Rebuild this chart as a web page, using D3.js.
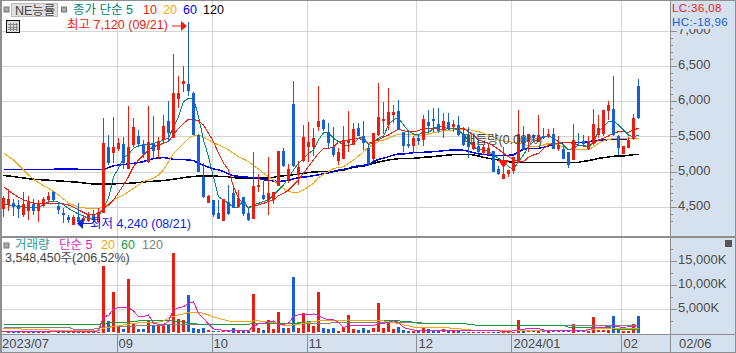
<!DOCTYPE html>
<html>
<head>
<meta charset="utf-8">
<script src="https://cdn.jsdelivr.net/npm/d3@7"></script>
<style>
  html, body { margin: 0; padding: 0; background: #fff; overflow: hidden; }
  text { font-family: "Liberation Sans", "Noto Sans CJK KR", sans-serif; }
</style>
</head>
<body>
<div class="chart-container"></div>
<script>
// Data. Prices in won, volume in thousands of shares.
const opens = [4468,4530,4553,4529,4388,4449,4544,4435,4515,4600,4718,4515,4411,4355,4246,4364,4303,4303,4388,4293,
  4421,5346,5261,5332,5393,5034,5379,5506,5393,5143,5412,5308,5450,5718,5487,6034,6242,6242,6119,5520,
  4921,4562,4600,4421,4293,4577,4704,4496,4638,4411,4340,4779,4670,4600,4600,4803,5293,4897,5959,4944,
  5142,5341,5345,5638,5732,5558,5355,5142,5180,5411,5378,5614,5506,5331,5175,5520,5718,5662,5803,5860,
  5567,5388,5355,5482,5440,5699,5742,5671,5605,5699,5638,5662,5534,5520,5331,5364,5260,5237,5298,5034,
  4902,4968,5001,5128,5496,5426,5520,5426,5506,5487,5534,5317,5317,5284,5166,5426,5440,5317,5393,5520,
  5534,5865,5883,5506,5251,5341,5473,6214];
const closes = [4624,4610,4496,4468,4544,4591,4449,4553,4614,4657,4600,4459,4388,4308,4364,4293,4350,4402,4317,4435,
  5412,5119,5346,5412,5129,5346,5639,5393,5252,5426,5299,5440,5648,5553,6119,6119,6285,6143,5520,5001,
  4638,4657,4388,4341,4610,4402,4496,4624,4397,4317,4803,4812,4614,4694,4718,5293,5086,5039,5081,5062,
  5487,5416,5473,5718,5605,5402,5237,5275,5449,5449,5605,5506,5411,5109,5544,5770,5742,5841,5850,5600,
  5364,5355,5473,5435,5742,5647,5718,5567,5723,5614,5676,5520,5378,5345,5426,5284,5345,5331,5001,4968,
  4968,5024,5204,5534,5317,5534,5473,5520,5473,5534,5317,5378,5180,5095,5449,5411,5402,5435,5676,5614,
  5874,5945,5520,5331,5364,5449,5765,5756];
const highs = [4657,4751,4610,4600,4718,4657,4610,4600,4638,4718,4732,4577,4482,4388,4388,4553,4388,4435,4459,4482,
  5761,5521,5775,5473,5497,5931,5761,5591,5450,5931,5790,5497,5804,6001,6667,6355,6497,7120,6134,5534,
  5119,4671,4600,4600,4610,4813,4813,4742,4638,4482,5284,4963,4869,5208,4718,5293,5331,5105,6285,5152,
  5662,5709,5614,6214,5742,5685,5629,5331,5647,5860,5685,5685,5718,5378,5544,6252,5992,6181,5945,6016,
  5567,5567,5506,5520,5803,5874,5907,5907,5836,5827,5732,5789,5638,5638,5520,5449,5378,5402,5298,5081,
  5345,5024,5204,5874,5647,5534,5534,5803,5614,5600,5614,5506,5378,5284,5676,5544,5520,5506,5883,5803,
  5874,6006,6355,5520,5364,5487,5817,6308];
const lows = [4364,4435,4364,4341,4364,4317,4388,4293,4496,4577,4577,4411,4270,4270,4240,4270,4270,4293,4270,4270,
  4421,5096,5119,5285,5049,5034,5355,5355,5190,5129,5190,5190,5403,5426,5473,5907,6134,6077,5520,5001,
  4624,4553,4364,4326,4293,4388,4482,4482,4364,4293,4340,4708,4600,4387,4552,4803,5057,4836,5072,4812,
  5142,5142,5213,5581,5567,5331,5204,5095,5180,5284,5378,5496,5308,5081,5142,5506,5544,5591,5685,5591,
  5284,5345,5270,5378,5364,5553,5567,5553,5487,5591,5567,5506,5364,5204,5308,5260,5237,5237,5001,4954,
  4902,4921,4968,5128,5317,5284,5426,5426,5459,5473,5317,5298,5180,5062,5166,5355,5378,5308,5378,5473,
  5506,5732,5506,5237,5251,5331,5449,5742];
const volumes = [280,200,150,150,180,160,140,170,200,200,220,160,120,100,180,130,110,200,160,200,
  14019,2360,8397,1388,694,11312,2013,694,694,2707,1666,1666,1874,1874,16656,2915,2568,7773,1041,833,
  1041,486,278,278,278,278,1041,347,347,347,8050,972,555,2637,763,4303,972,972,11590,972,
  4095,1943,1388,8467,972,763,972,347,1110,3678,763,555,972,555,902,6177,972,2151,763,1180,
  555,347,347,347,972,763,347,347,694,347,347,347,208,208,208,208,208,200,200,200,
  200,200,200,2637,400,250,300,350,300,350,300,250,250,300,1804,300,280,400,3262,500,
  500,550,3470,600,350,350,1804,3548];

const ma5 = [4540,4530,4520,4510,4500,4500,4490,4490,4540,4570,4580,4570,4530,4480,4440,4400,4370,4340,4340,4360,
  4500,4620,4930,5048,5190,5250,5330,5365,5380,5380,5400,5420,5450,5473,5638,5780,5990,6040,6040,5780,
  5450,5214,4931,4647,4600,4553,4496,4496,4600,4482,4529,4552,4576,4600,4670,4741,4812,4916,5024,5119,
  5190,5260,5308,5449,5553,5553,5473,5426,5378,5369,5402,5473,5496,5378,5426,5473,5506,5662,5742,5756,
  5662,5577,5534,5520,5567,5553,5614,5638,5638,5600,5614,5591,5520,5449,5355,5308,5308,5298,5237,5190,
  5142,5072,5034,5142,5237,5355,5426,5449,5496,5506,5473,5426,5378,5308,5331,5378,5378,5345,5426,5567,
  5638,5709,5718,5662,5591,5520,5487,5520];
const ma10 = [4789,4732,4685,4638,4600,4577,4553,4553,4553,4553,4553,4544,4544,4529,4496,4459,4421,4388,4388,4411,
  4482,4529,4600,4704,4813,4931,5072,5166,5237,5308,5355,5378,5402,5426,5520,5614,5685,5742,5742,5718,
  5662,5544,5426,5260,5119,5025,4789,4624,4544,4496,4515,4529,4552,4576,4600,4661,4694,4741,4812,4883,
  4977,5072,5166,5260,5331,5331,5345,5426,5440,5449,5463,5473,5449,5402,5426,5449,5487,5520,5567,5600,
  5581,5567,5567,5581,5614,5614,5614,5605,5600,5610,5614,5614,5614,5567,5520,5449,5426,5402,5364,5317,
  5260,5213,5175,5142,5142,5204,5237,5260,5331,5378,5402,5402,5411,5411,5402,5378,5364,5364,5402,5449,
  5473,5506,5544,5567,5567,5558,5591,5614];
const ma20 = [5270,5214,5167,5096,5025,4954,4893,4846,4803,4765,4718,4671,4614,4553,4529,4496,4487,4482,4482,4482,
  4496,4544,4600,4638,4671,4718,4765,4813,4860,4883,4907,4954,5025,5143,5261,5332,5403,5473,5511,5521,
  5488,5450,5412,5379,5346,5308,5261,5213,5180,5142,5086,5039,4977,4930,4883,4812,4765,4718,4708,4708,
  4741,4788,4836,4916,4963,5001,5048,5057,5072,5119,5166,5223,5284,5345,5393,5426,5449,5473,5506,5534,
  5534,5525,5520,5515,5520,5534,5553,5567,5581,5586,5590,5595,5600,5600,5581,5567,5544,5515,5487,5449,
  5435,5426,5416,5411,5393,5364,5355,5355,5378,5402,5402,5378,5345,5317,5308,5308,5308,5308,5355,5402,
  5435,5459,5468,5473,5473,5473,5473,5473];
const ma60 = [5034,5034,5034,5034,5034,5034,5034,5034,5034,5034,5034,5038,5038,5038,5038,5034,5030,5030,5030,5030,
  5030,5058,5082,5096,5100,5110,5119,5129,5143,5167,5186,5195,5200,5190,5176,5176,5171,5167,5157,5119,
  5091,5063,5039,5025,5001,4968,4944,4935,4925,4921,4916,4906,4887,4878,4869,4859,4869,4878,4897,4916,
  4925,4930,4944,4954,4970,4985,5000,5024,5034,5048,5072,5081,5090,5100,5142,5175,5190,5213,5237,5251,
  5251,5260,5270,5270,5275,5279,5284,5289,5298,5303,5308,5308,5303,5289,5270,5251,5246,5237,5232,5227,
  5227,5232,5237,5284,5317,5331,5331,5331,5345,5364,5393,5402,5411,5416,5416,5416,5416,5426,5435,5445,
  5449,5454,5459,5459,5463,5468,5473,5473];
const ma120 = [4945,4940,4931,4921,4912,4902,4893,4888,4883,4879,4874,4869,4865,4860,4855,4850,4841,4831,4827,4827,
  4827,4827,4827,4831,4836,4836,4841,4846,4855,4860,4865,4869,4874,4883,4893,4902,4917,4926,4931,4940,
  4940,4940,4940,4935,4932,4928,4915,4912,4910,4908,4906,4908,4910,4913,4920,4935,4942,4950,4958,4967,
  4978,4988,4995,5000,5005,5005,5005,5015,5024,5043,5062,5072,5081,5095,5119,5138,5152,5166,5175,5185,
  5190,5190,5190,5194,5204,5208,5213,5223,5227,5237,5242,5246,5246,5246,5237,5223,5204,5190,5175,5166,
  5152,5142,5133,5133,5133,5133,5133,5133,5133,5133,5133,5133,5133,5133,5133,5133,5147,5157,5171,5190,
  5199,5208,5218,5223,5223,5232,5242,5246];

const volMa5 = [208,208,208,208,208,208,208,208,208,208,208,208,208,208,208,208,208,208,208,347,
  3331,3539,4927,5205,5205,5205,4511,3331,3331,3678,1943,1735,1596,2429,4719,5205,5413,6107,6454,4025,
  2984,1735,763,555,486,416,416,416,416,416,1249,1804,1943,2151,2429,1596,1735,1943,3331,3678,
  3817,3817,3886,3539,2984,2637,2637,2151,1041,1457,1457,1457,1457,1457,1457,1943,1943,2151,2429,2151,
  1041,763,555,347,347,347,347,347,347,347,347,347,347,347,347,347,347,347,347,347,
  208,208,347,625,694,833,833,833,555,347,347,347,347,347,347,347,416,555,972,972,
  1110,1249,1457,1180,1110,1180,1249,1457];
const volMa20 = [902,850,800,750,720,694,680,650,620,580,416,416,416,416,347,347,347,347,347,347,
  902,1041,1249,1388,1596,1735,1874,2013,2151,2151,2151,2151,2429,2984,3331,3678,3886,4233,4233,4233,
  4025,3678,3192,2984,2707,2429,2290,2290,2221,2290,2429,2429,2290,2151,2082,1735,1527,1457,1596,1735,
  1874,2082,2290,2429,2498,2498,2498,2498,2498,2637,2498,2498,2498,2498,2498,2429,2429,2151,2013,1943,
  1596,1457,1110,1110,1110,1041,972,972,972,972,833,763,694,555,486,347,347,347,347,347,
  347,347,347,416,416,416,416,416,416,416,416,416,416,416,416,486,486,555,694,763,
  763,763,763,833,763,763,763,763];
const volMa60 = [1735,1735,1735,1735,1735,1735,1735,1735,1735,1735,1735,1735,1735,1735,1735,1735,1735,1735,1735,1735,
  1943,2013,2151,2151,2151,2151,2290,2429,2429,2429,2429,2429,2429,2568,2429,2290,2151,2013,1874,1735,
  1735,1735,1735,1735,1735,1735,1735,1735,1735,1735,1874,1874,1874,1874,1943,1804,1804,1804,1804,2082,
  2151,2221,2290,2429,2429,2429,2429,2429,2429,2429,2429,2429,2429,2429,2429,2429,2429,2429,2429,2429,
  2360,2290,2151,2082,1943,1943,1943,1943,1943,1943,1943,1943,1943,1735,1596,1527,1457,1457,1457,1457,
  1457,1457,1457,1457,1457,1457,1457,1457,1457,1457,1457,1457,1457,1110,1110,1110,1110,1110,1110,1110,
  1110,1110,694,694,694,694,694,694];
const volMa120 = [1110,1110,1110,1110,1110,1110,1110,1110,1110,1110,1110,1110,1110,1110,694,694,694,694,694,902,
  1110,1150,1180,1220,1260,1300,1340,1380,1420,1460,1500,1530,1560,1600,1630,1660,1690,1720,1735,1735,
  1735,1735,1735,1735,1735,1735,1735,1735,1735,1735,1874,1874,1874,1874,1874,1874,1874,1874,1874,1874,
  1874,1874,1874,1874,1874,1874,2082,2082,2082,2082,2082,2082,2082,2082,2082,2082,2082,2082,2082,2082,
  2082,2082,2082,1943,1943,1943,1943,1943,1943,1943,1943,1943,1943,1735,1596,1527,1457,1457,1457,1457,
  1457,1457,1457,1457,1457,1457,1457,1457,1457,1457,1457,1457,1527,1527,1527,1527,1527,1527,1527,1527,
  1527,1527,1527,1527,1527,1527,1527,1527];

const priceTicks = [4500,5000,5500,6000,6500,7000];
const volTicks = [5000,10000,15000];
const monthPos = [22.6,41.6,60.6,82.6,101.6,123.6];
const monthLabels = ['09','10','11','12','2024/01','02'];

// Dimensions & Constants
const width = 736, height = 353,
    axisX = 670,
    panelDivide = 236,
    bandTop = 334;

const red = '#ec1c0e', blue = '#1560d2', bandFill = '#d6e1ef',
    gridColor = '#d4d4d4', frameColor = '#8e8e8e', labelColor = '#4a4a4a';

const svg = d3.select('.chart-container')
    .append('svg')
        .attr('width', width)
        .attr('height', height)
        .style('display', 'block');

// Build scales.
const x = d3.scaleLinear().domain([0, 127]).range([3.5, 638.5]);
const y = d3.scaleLinear().domain([4500, 7000]).range([207, 30.5]);
const yVol = d3.scaleLinear().domain([0, 15000]).range([332.5, 261]);

// Backgrounds
svg.append('rect').attr('x', axisX).attr('y', 0).attr('width', width - axisX).attr('height', height).attr('fill', bandFill);
svg.append('rect').attr('x', 0).attr('y', bandTop).attr('width', width).attr('height', height - bandTop).attr('fill', bandFill);

// Grid
const grid = svg.append('g').attr('shape-rendering', 'crispEdges').attr('stroke', gridColor).attr('stroke-width', 1);
grid.selectAll('.h1').data(priceTicks).join('line')
    .attr('x1', 0).attr('x2', axisX).attr('y1', d => Math.round(y(d)) + 0.5).attr('y2', d => Math.round(y(d)) + 0.5);
grid.selectAll('.h2').data(volTicks).join('line')
    .attr('x1', 0).attr('x2', axisX).attr('y1', d => Math.round(yVol(d)) + 0.5).attr('y2', d => Math.round(yVol(d)) + 0.5);
grid.selectAll('.v').data(monthPos).join('line')
    .attr('x1', d => Math.round(x(d)) + 0.5).attr('x2', d => Math.round(x(d)) + 0.5)
    .attr('y1', 0).attr('y2', bandTop);

// Moving averages under the candles
const priceLine = d3.line().x((d, i) => x(i)).y(d => y(d));
[[ma120, '#000000', 1.5], [ma60, '#0000e6', 1.5], [ma20, '#f2a80c', 1], [ma10, '#ee1c0e', 1], [ma5, '#008776', 1]]
    .forEach(([values, color, w]) => {
        svg.append('path').datum(values)
            .attr('d', priceLine)
            .attr('fill', 'none')
            .attr('stroke', color)
            .attr('stroke-width', w)
            .attr('shape-rendering', 'crispEdges');
    });

// Candles
const candles = svg.append('g').attr('shape-rendering', 'crispEdges');
const candleColor = i => closes[i] >= opens[i] ? red : blue;
candles.selectAll('.wick').data(d3.range(opens.length)).join('rect')
    .attr('x', i => x(i) - 0.5)
    .attr('width', 1)
    .attr('y', i => Math.round(y(highs[i])))
    .attr('height', i => Math.max(1, Math.round(y(lows[i]) - y(highs[i]))))
    .attr('fill', candleColor);
candles.selectAll('.body').data(d3.range(opens.length)).join('rect')
    .attr('x', i => x(i) - 1.5)
    .attr('width', 3)
    .attr('y', i => Math.round(y(Math.max(opens[i], closes[i]))))
    .attr('height', i => Math.max(1, Math.round(Math.abs(y(opens[i]) - y(closes[i])))))
    .attr('fill', candleColor);

// Volume bars
svg.append('g').attr('shape-rendering', 'crispEdges')
    .selectAll('rect').data(volumes).join('rect')
    .attr('x', (d, i) => x(i) - 1.5)
    .attr('width', 3)
    .attr('y', d => Math.round(yVol(d)))
    .attr('height', d => Math.max(1, Math.round(yVol(0) - yVol(d))))
    .attr('fill', (d, i) => candleColor(i));

const volLine = d3.line().x((d, i) => x(i)).y(d => yVol(d));
[[volMa120, '#808080', 1], [volMa60, '#159a3c', 1], [volMa20, '#f2a80c', 1], [volMa5, '#e01fc0', 1]]
    .forEach(([values, color, w]) => {
        svg.append('path').datum(values)
            .attr('d', volLine)
            .attr('fill', 'none')
            .attr('stroke', color)
            .attr('stroke-width', w)
            .attr('shape-rendering', 'crispEdges');
    });

// Axes
const priceAxis = d3.axisRight(y)
    .tickValues(d3.range(4300, 7100, 100))
    .tickSize(3)
    .tickFormat(d => priceTicks.includes(d) ? d3.format(',')(d) : '');
const volAxis = d3.axisRight(yVol)
    .tickValues(d3.range(2500, 20000, 2500))
    .tickSize(3)
    .tickFormat(d => volTicks.includes(d) ? d3.format(',')(d) + 'K' : '');

[[priceAxis, priceTicks], [volAxis, volTicks]].forEach(([axis, majors]) => {
    const g = svg.append('g')
        .attr('transform', `translate(${axisX},0)`)
        .attr('shape-rendering', 'crispEdges')
        .call(axis);
    g.select('.domain').remove();
    g.selectAll('.tick line').attr('stroke', frameColor)
        .attr('x2', d => majors.includes(d) ? 7 : 3);
    g.selectAll('.tick text')
        .attr('x', 8)
        .attr('y', -1.5)
        .attr('fill', labelColor)
        .attr('font-size', 13)
        .style('font-family', '"Liberation Sans", sans-serif');
});

// Frame
const frame = svg.append('g').attr('shape-rendering', 'crispEdges').attr('fill', frameColor);
frame.append('rect').attr('x', 0).attr('y', 0).attr('width', width).attr('height', 1);
frame.append('rect').attr('x', 0).attr('y', 0).attr('width', 2).attr('height', height);
frame.append('rect').attr('x', width - 1).attr('y', 0).attr('width', 1).attr('height', height);
frame.append('rect').attr('x', 0).attr('y', height - 1).attr('width', width).attr('height', 1);
frame.append('rect').attr('x', axisX).attr('y', 0).attr('width', 1).attr('height', height);
frame.append('rect').attr('x', 0).attr('y', panelDivide).attr('width', width).attr('height', 2);
frame.append('rect').attr('x', 0).attr('y', bandTop).attr('width', width).attr('height', 1);
frame.selectAll('.sep').data(monthPos).join('rect')
    .attr('x', d => Math.round(x(d))).attr('y', bandTop).attr('width', 1).attr('height', height - bandTop);

// Bottom labels
const bandLabels = svg.append('g').attr('fill', labelColor).attr('font-size', 13);
bandLabels.append('text').attr('x', 2).attr('y', 348).text('2023/07');
bandLabels.selectAll('.m').data(monthPos).join('text')
    .attr('x', d => x(d) + 2).attr('y', 348).text((d, i) => monthLabels[i]);
bandLabels.append('text').attr('x', 679).attr('y', 348).text('02/06');

// Text helper
function label(sel, px, py, str, color, size) {
    return sel.append('text').attr('x', px).attr('y', py).attr('fill', color).attr('font-size', size || 12).text(str);
}

// Corner readouts cover the 7,000 label
svg.append('rect').attr('x', axisX + 1).attr('y', 1).attr('width', width - axisX - 2).attr('height', 28).attr('fill', bandFill);
label(svg, 672, 12, 'LC:36,08', '#ec1c0e', 11.5).attr('letter-spacing', 0.4);
label(svg, 672, 25.5, 'HC:-18,96', blue, 11.5).attr('letter-spacing', 0.4);

// Header of price panel
svg.append('rect').attr('x', 4).attr('y', 7).attr('width', 5).attr('height', 5).attr('fill', '#aaa').attr('stroke', '#777');
svg.append('rect').attr('x', 11.5).attr('y', 3.5).attr('width', 46).attr('height', 13).attr('fill', '#e0e0e0').attr('stroke', '#bbb');
label(svg, 15, 14.5, 'NE능률', '#444', 12.5);
svg.append('rect').attr('x', 61.5).attr('y', 7).attr('width', 5).attr('height', 5).attr('fill', '#aaa').attr('stroke', '#777');
label(svg, 73, 14, '종가 단순 5', '#00857a', 12.5);
label(svg, 143, 14, '10', '#ec1c0e', 12.5);
label(svg, 163, 14, '20', '#f2a80c', 12.5);
label(svg, 183, 14, '60', '#0000e6', 12.5);
label(svg, 203, 14, '120', '#000', 12.5);

// Table icon
const icon = svg.append('g').attr('shape-rendering', 'crispEdges');
icon.append('rect').attr('x', 6.5).attr('y', 20.5).attr('width', 13).attr('height', 12).attr('fill', '#ddd').attr('stroke', '#111');
d3.range(3).forEach(k => {
    icon.append('line').attr('x1', 10.5 + k * 3).attr('x2', 10.5 + k * 3).attr('y1', 23).attr('y2', 31).attr('stroke', '#888');
    icon.append('line').attr('x1', 8).attr('x2', 18).attr('y1', 24.5 + k * 2.5).attr('y2', 24.5 + k * 2.5).attr('stroke', '#888');
});

// High and low notes
label(svg, 67, 29, '최고 7,120 (09/21)', '#ec1c0e', 12.5);
svg.append('line').attr('x1', 172).attr('x2', 182).attr('y1', 26).attr('y2', 26).attr('stroke', '#ec1c0e');
svg.append('path').attr('d', 'M181,21L187,26L181,31Z').attr('fill', '#ec1c0e');
svg.append('path').attr('d', 'M77,223.5L83,218L83,229Z').attr('fill', '#0a22d8');
svg.append('line').attr('x1', 82).attr('x2', 92).attr('y1', 223.5).attr('y2', 223.5).attr('stroke', '#0a22d8');
label(svg, 90, 228, '최저 4,240 (08/21)', '#0a22d8', 12.5);

// Overlapping note and marker at the last price level
label(svg, 464, 144, '매듭량(0.00%)', '#444', 12.5);
svg.append('path').attr('d', 'M498,160L509,160L503.5,168Z').attr('fill', '#ec1c0e');

// Volume panel header
svg.append('rect').attr('x', 4).attr('y', 243).attr('width', 5).attr('height', 5).attr('fill', '#aaa').attr('stroke', '#777');
label(svg, 15, 249, '거래량', '#2c9a94', 12.5);
label(svg, 59, 249, '단순 5', '#e01fc0', 12.5);
label(svg, 101, 249, '20', '#f2a80c', 12.5);
label(svg, 121, 249, '60', '#159a3c', 12.5);
label(svg, 142, 249, '120', '#808080', 12.5);
label(svg, 5, 262, '3,548,450주(206,52%)', '#444', 12.5);

// Little expand button
svg.append('rect').attr('x', 725).attr('y', 240).attr('width', 7).attr('height', 7).attr('fill', '#555');
</script>
</body>
</html>
